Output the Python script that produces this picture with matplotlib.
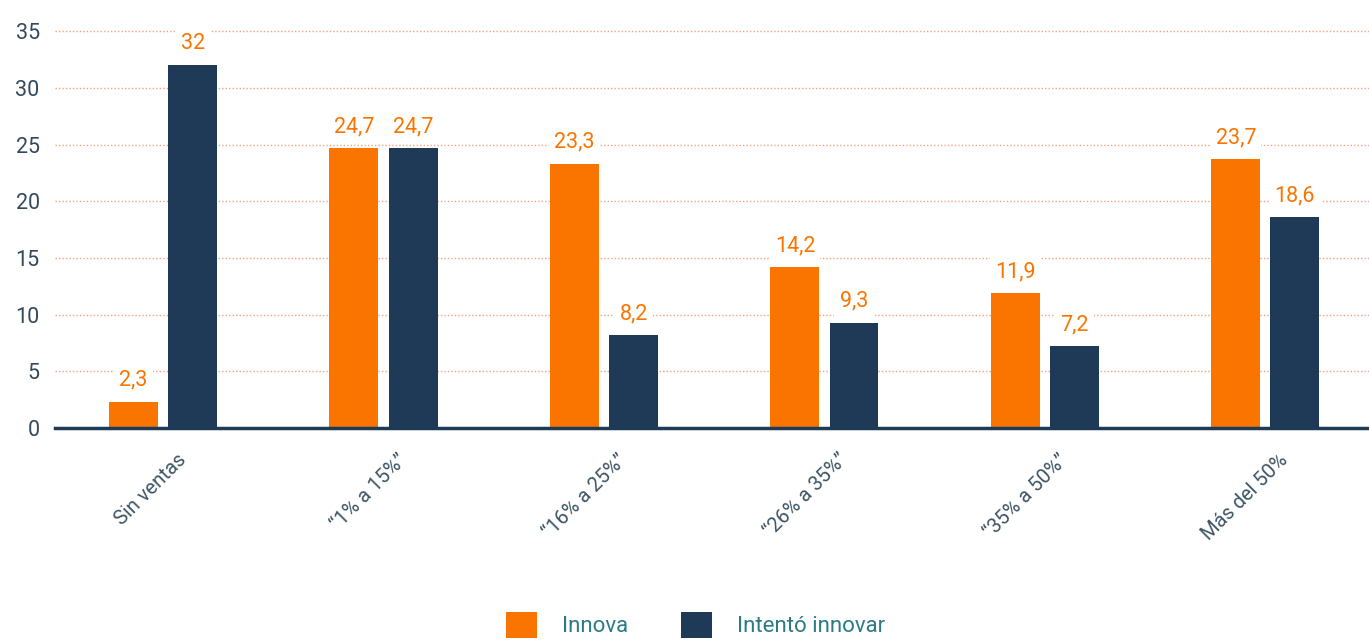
import matplotlib
matplotlib.use("Agg")
import matplotlib.pyplot as plt
import numpy as np
from matplotlib.patches import Patch

categories = ["Sin ventas", "\u201c1% a 15%\u201d", "\u201c16% a 25%\u201d", "\u201c26% a 35%\u201d", "\u201c35% a 50%\u201d", "Más del 50%"]
innova = [2.3, 24.7, 23.3, 14.2, 11.9, 23.7]
intento = [32, 24.7, 8.2, 9.3, 7.2, 18.6]
yticks = [0, 5, 10, 15, 20, 25, 30, 35]
series_names = ["Innova", "Intentó innovar"]

ORANGE = "#F97500"
NAVY = "#1E3A56"
GRID = "#F5A07E"
TICK = "#34495E"
LEG_TEXT = "#2C7C84"

plt.rcParams['font.family'] = ['Roboto', 'DejaVu Sans']

fig = plt.figure(figsize=(13.69, 6.41), dpi=100)
ax = fig.add_axes([55/1369, 1-428/641, 1314/1369, 408/641])

x = np.arange(len(categories))
off = 0.134
w = 0.222
b1 = ax.bar(x - off, innova, w, color=ORANGE, zorder=3)
b2 = ax.bar(x + off, intento, w, color=NAVY, zorder=3)

def fmt(v):
    s = f"{v:g}"
    return s.replace(".", ",")

for bars, vals in ((b1, innova), (b2, intento)):
    for r, v in zip(bars, vals):
        ax.annotate(fmt(v), (r.get_x() + r.get_width()/2, v), xytext=(0, 8),
                    textcoords="offset points", ha="center", va="bottom",
                    fontsize=15.5, color=ORANGE, zorder=4,
                    bbox=dict(boxstyle="square,pad=0.25", fc="white", ec="none"))

ax.set_ylim(0, 36)
ax.set_xlim(-0.49, 5.47)
ax.set_yticks(yticks)
ax.yaxis.grid(True, color=GRID, linestyle=(0, (1, 1.5)), linewidth=1.0, zorder=0)
ax.set_axisbelow(True)
for s in ["top", "right", "left"]:
    ax.spines[s].set_visible(False)
ax.spines["bottom"].set_color(NAVY)
ax.spines["bottom"].set_linewidth(2.5)
ax.spines["bottom"].set_zorder(5)
ax.tick_params(axis="y", length=0, labelsize=15.5, labelcolor=TICK, pad=11)
ax.tick_params(axis="x", length=0, labelsize=14.5, labelcolor="#3E5566", pad=16)
ax.set_xticks(x + 0.06)
ax.set_xticklabels(categories, rotation=45, ha="right", rotation_mode="anchor")
for lab in ax.get_yticklabels():
    lab.set_horizontalalignment("right")

handles = [Patch(facecolor=ORANGE, edgecolor="none"), Patch(facecolor=NAVY, edgecolor="none")]
leg = fig.legend(handles, series_names, loc="center", bbox_to_anchor=(0.508, 0.025), ncol=2,
                 frameon=False, fontsize=16, handlelength=1.4, handleheight=1.4,
                 handletextpad=1.1, columnspacing=2.4)
for t in leg.get_texts():
    t.set_color(LEG_TEXT)

fig.savefig("out.png", dpi=100)
